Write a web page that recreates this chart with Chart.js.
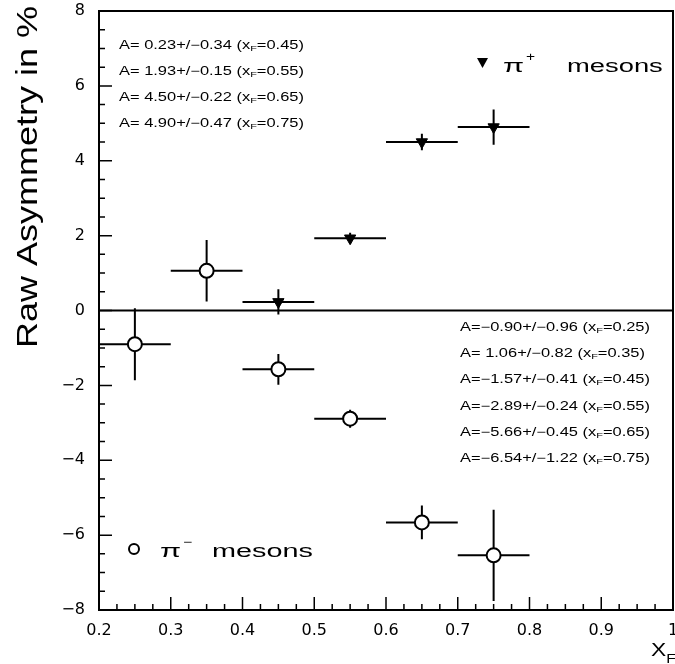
<!DOCTYPE html>
<html>
<head>
<meta charset="utf-8">
<script src="https://cdn.jsdelivr.net/npm/chart.js@4/dist/chart.umd.min.js"></script>
<style>
  body { margin: 0; background: #fff; }
  canvas { display: block; }
</style>
</head>
<body>
<canvas id="asym" width="675" height="664"></canvas>
<script>
// raw asymmetry values (percent)
const xfMinus = [0.25, 0.35, 0.45, 0.55, 0.65, 0.75];
const asymMinus = [-0.90, 1.06, -1.57, -2.89, -5.66, -6.54];
const errMinus = [0.96, 0.82, 0.41, 0.24, 0.45, 1.22];

const xfPlus = [0.45, 0.55, 0.65, 0.75];
const asymPlus = [0.23, 1.93, 4.50, 4.90];
const errPlus = [0.34, 0.15, 0.22, 0.47];

const binHalf = 0.05; // horizontal error bar = half bin width

const MINUS = '\u2212';

function fmtA(v) {
  return v < 0 ? MINUS + Math.abs(v).toFixed(2) : ' ' + v.toFixed(2);
}

// draw a horizontally stretched string, returns advance
function sText(ctx, str, x, y, font, sx) {
  ctx.save();
  ctx.font = font;
  ctx.translate(x, y);
  ctx.scale(sx, 1);
  ctx.fillText(str, 0, 0);
  const w = ctx.measureText(str).width * sx;
  ctx.restore();
  return w;
}

function annotLine(ctx, a, e, xf, x, y) {
  const f = '12px "Liberation Sans", Arial, sans-serif';
  const fs = '8px "Liberation Sans", Arial, sans-serif';
  const sx = 1.37;
  let cx = x;
  cx += sText(ctx, 'A=' + fmtA(a) + '+/' + MINUS + e.toFixed(2) + ' (x', cx, y, f, sx);
  cx += sText(ctx, 'F', cx, y + 2, fs, sx);
  sText(ctx, '=' + xf.toFixed(2) + ')', cx, y, f, sx);
}

const rootLook = {
  id: 'rootLook',
  beforeDatasetsDraw(chart) {
    const { ctx, chartArea: ca, scales: { x, y } } = chart;
    ctx.save();
    ctx.strokeStyle = '#000';
    ctx.lineWidth = 2;
    // zero line
    ctx.beginPath();
    ctx.moveTo(ca.left, y.getPixelForValue(0));
    ctx.lineTo(ca.right, y.getPixelForValue(0));
    ctx.stroke();
    // error bars
    const bars = (xs, ys, es) => {
      xs.forEach((xv, i) => {
        const px = x.getPixelForValue(xv), py = y.getPixelForValue(ys[i]);
        ctx.beginPath();
        ctx.moveTo(x.getPixelForValue(xv - binHalf), py);
        ctx.lineTo(x.getPixelForValue(xv + binHalf), py);
        ctx.moveTo(px, y.getPixelForValue(ys[i] - es[i]));
        ctx.lineTo(px, y.getPixelForValue(ys[i] + es[i]));
        ctx.stroke();
      });
    };
    bars(xfMinus, asymMinus, errMinus);
    bars(xfPlus, asymPlus, errPlus);
    ctx.restore();
  },
  afterDraw(chart) {
    const { ctx, chartArea: ca, scales: { x, y } } = chart;
    ctx.save();
    ctx.strokeStyle = '#000';
    ctx.fillStyle = '#000';
    ctx.lineWidth = 2;
    ctx.strokeRect(ca.left, ca.top, ca.right - ca.left, ca.bottom - ca.top);

    // inward ticks
    ctx.lineWidth = 1.5;
    ctx.beginPath();
    for (let k = 0; k <= 32; k++) {
      const v = 0.2 + k * 0.025;
      const px = x.getPixelForValue(v);
      const len = k % 4 === 0 ? 13 : 6;
      ctx.moveTo(px, ca.bottom);
      ctx.lineTo(px, ca.bottom - len);
    }
    for (let k = 0; k <= 32; k++) {
      const v = -8 + k * 0.5;
      const py = y.getPixelForValue(v);
      const len = k % 4 === 0 ? 13 : 6;
      ctx.moveTo(ca.left, py);
      ctx.lineTo(ca.left + len, py);
    }
    ctx.stroke();

    // axis titles
    ctx.textBaseline = 'alphabetic';
    ctx.save();
    ctx.translate(37, 348);
    ctx.rotate(-Math.PI / 2);
    sText(ctx, 'Raw Asymmetry in %', 0, 0, '30px "Liberation Sans", Arial, sans-serif', 1.2);
    ctx.restore();
    let cx = 651;
    cx += sText(ctx, 'X', cx, 656, '19px "Liberation Sans", Arial, sans-serif', 1.2);
    sText(ctx, 'F', cx, 663, '13px "Liberation Sans", Arial, sans-serif', 1.2);

    // value annotations
    xfPlus.forEach((xf, i) => annotLine(ctx, asymPlus[i], errPlus[i], xf, 119, 49 + i * 26));
    xfMinus.forEach((xf, i) => annotLine(ctx, asymMinus[i], errMinus[i], xf, 460, 331 + i * 26.2));

    // legends
    const leg = '18px "Liberation Sans", Arial, sans-serif';
    // pi+ : filled down triangle
    ctx.beginPath();
    ctx.moveTo(477, 58); ctx.lineTo(488, 58); ctx.lineTo(482.5, 68);
    ctx.closePath();
    ctx.fill();
    cx = 503;
    cx += sText(ctx, '\u03c0', cx, 72, leg, 1.7);
    sText(ctx, '+', cx + 2, 61, '12px "Liberation Sans", Arial, sans-serif', 1.3);
    sText(ctx, 'mesons', 567, 72, leg, 1.52);
    // pi- : open circle
    ctx.lineWidth = 2;
    ctx.beginPath();
    ctx.arc(134, 549, 5, 0, Math.PI * 2);
    ctx.stroke();
    cx = 160;
    cx += sText(ctx, '\u03c0', cx, 557, leg, 1.7);
    sText(ctx, MINUS, cx + 2, 546, '12px "Liberation Sans", Arial, sans-serif', 1.3);
    sText(ctx, 'mesons', 212, 557, leg, 1.6);
    ctx.restore();
  }
};

new Chart(document.getElementById('asym'), {
  type: 'scatter',
  data: {
    datasets: [
      {
        label: '\u03c0+ mesons',
        data: xfPlus.map((v, i) => ({ x: v, y: asymPlus[i] })),
        pointStyle: 'triangle',
        rotation: 180,
        pointRadius: 6.5,
        backgroundColor: '#000',
        borderColor: '#000',
        borderWidth: 1
      },
      {
        label: '\u03c0- mesons',
        data: xfMinus.map((v, i) => ({ x: v, y: asymMinus[i] })),
        pointStyle: 'circle',
        pointRadius: 7,
        backgroundColor: '#fff',
        borderColor: '#000',
        borderWidth: 2
      }
    ]
  },
  options: {
    responsive: false,
    animation: false,
    devicePixelRatio: 1,
    layout: { autoPadding: false, padding: { left: 0, right: 2, top: 11, bottom: 0 } },
    plugins: { legend: { display: false }, tooltip: { enabled: false } },
    scales: {
      x: {
        type: 'linear',
        min: 0.2,
        max: 1,
        grid: { display: false },
        border: { display: false },
        ticks: {
          stepSize: 0.1,
          padding: 3,
          maxRotation: 0,
          color: '#000',
          font: { family: '"DejaVu Sans", sans-serif', size: 16 },
          callback: v => String(Number(v.toFixed(2)))
        },
        afterFit: s => { s.height = 54; s.paddingLeft = 0; s.paddingRight = 0; }
      },
      y: {
        type: 'linear',
        min: -8,
        max: 8,
        grid: { display: false },
        border: { display: false },
        ticks: {
          stepSize: 2,
          padding: 6,
          color: '#000',
          font: { family: '"DejaVu Sans", sans-serif', size: 16 },
          callback: v => v < 0 ? MINUS + Math.abs(v) : String(v)
        },
        afterFit: s => { s.width = 99; s.paddingTop = 0; s.paddingBottom = 0; }
      }
    }
  },
  plugins: [rootLook]
});
</script>
</body>
</html>
